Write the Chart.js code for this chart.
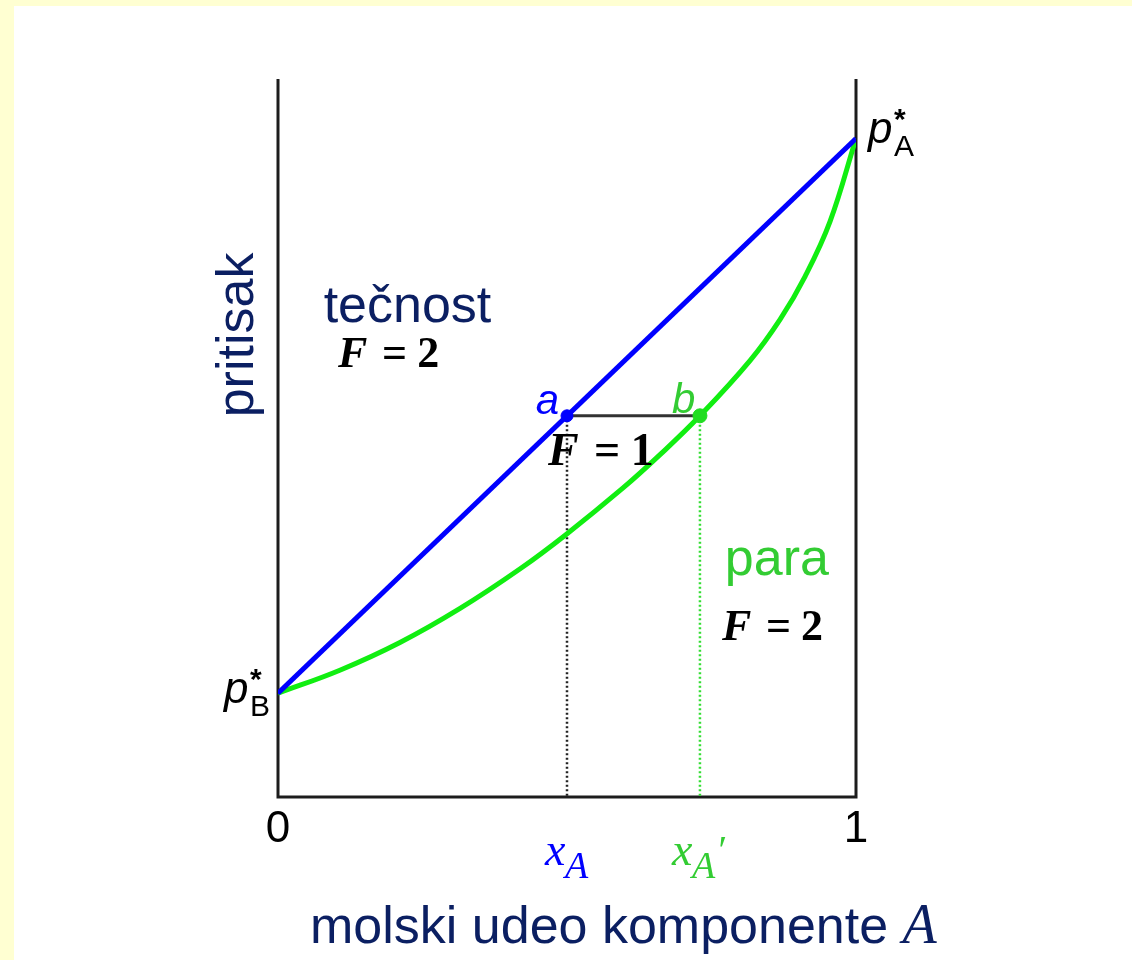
<!DOCTYPE html>
<html>
<head>
<meta charset="utf-8">
<title>pritisak - sastav</title>
<script src="https://cdn.jsdelivr.net/npm/chart.js@4.4.1/dist/chart.umd.min.js"></script>
<style>
  html, body { margin: 0; width: 1132px; height: 960px; background: #ffffd2; overflow: hidden; }
  #sheet { position: absolute; left: 14px; top: 6px; right: 0; bottom: 0; background: #fff; }
  #diagram { position: absolute; left: 0; top: 0; }
</style>
</head>
<body>
<div id="sheet"></div>
<canvas id="diagram" width="1132" height="960"></canvas>
<script>
// molski udeo A i pritisak (p*B = 0.3, p*A = 1)
const liquidX = [0, 1];
const liquidP = [0.3, 1.0];
const vaporX = [0, 0.107, 0.211, 0.315, 0.419, 0.498, 0.597, 0.661, 0.73, 0.817, 0.869, 0.912, 0.955, 1];
const vaporP = [0.3, 0.329, 0.364, 0.407, 0.457, 0.5, 0.559, 0.601, 0.65, 0.72, 0.772, 0.826, 0.895, 1.0];
// vezna linija a-b
const tieX = [0.5, 0.73];
const tieP = [0.65, 0.65];
const tickValues = [0, 1];
const tickLabels = ["0", "1"];

const X_MIN = 0, X_MAX = 1;
const P_MIN = 0.169, P_MAX = 1.075;

const NAVY = "#0b1f62";
const BLUE = "#0000ff";
const GREEN = "#11ee11";
const LIGHT_GREEN = "#33cc33";

const toPoints = (xs, ys) => xs.map((x, i) => ({ x: x, y: ys[i] }));

const SANS = '"Liberation Sans", Arial, sans-serif';
const SERIF = '"Liberation Serif", "Times New Roman", serif';

// F = n, italic F and bold upright rest
const drawPhaseRule = (ctx, x, y, size, n) => {
    ctx.fillStyle = "#000";
    ctx.textAlign = "left";
    ctx.font = `italic bold ${size}px ${SERIF}`;
    ctx.fillText("F", x, y);
    ctx.font = `bold ${size}px ${SERIF}`;
    ctx.fillText("=", x + size * 1.0, y);
    ctx.fillText(n, x + size * 1.8, y);
};

// p* with subscript
const drawPure = (ctx, x, y, sub) => {
    ctx.fillStyle = "#000";
    ctx.textAlign = "left";
    ctx.font = `italic 44px ${SANS}`;
    ctx.fillText("p", x, y);
    ctx.font = `bold 30px ${SANS}`;
    ctx.fillText("*", x + 26, y - 14);
    ctx.font = `30px ${SANS}`;
    ctx.fillText(sub, x + 26, y + 13);
};

const framePlugin = {
    id: "frame",
    beforeDatasetsDraw(chart) {
        const { ctx, chartArea } = chart;
        ctx.save();
        ctx.strokeStyle = "#1c1c1c";
        ctx.lineWidth = 3;
        ctx.beginPath();
        ctx.moveTo(chartArea.left, chartArea.top);
        ctx.lineTo(chartArea.left, chartArea.bottom);
        ctx.lineTo(chartArea.right, chartArea.bottom);
        ctx.lineTo(chartArea.right, chartArea.top);
        ctx.stroke();
        ctx.restore();
    },
    afterDatasetsDraw(chart) {
        const { ctx, chartArea } = chart;
        const sx = chart.scales.x;
        const sy = chart.scales.y;
        const ax = sx.getPixelForValue(tieX[0]);
        const bx = sx.getPixelForValue(tieX[1]);
        const ty = sy.getPixelForValue(tieP[0]);
        ctx.save();
        ctx.textBaseline = "alphabetic";

        // tick labels 0 i 1
        ctx.font = `44px ${SANS}`;
        ctx.fillStyle = "#000";
        ctx.textAlign = "center";
        tickValues.forEach((v, i) => {
            ctx.fillText(tickLabels[i], sx.getPixelForValue(v), chartArea.bottom + 45);
        });

        // x_A and x_A'
        const xLabel = (cx, color, prime) => {
            ctx.fillStyle = color;
            ctx.textAlign = "left";
            ctx.font = `italic 46px ${SERIF}`;
            const left = cx - (prime ? 28 : 22);
            ctx.fillText("x", left, chartArea.bottom + 68);
            ctx.font = `italic 38px ${SERIF}`;
            ctx.fillText("A", left + 20, chartArea.bottom + 81);
            if (prime) {
                ctx.font = `italic 40px ${SERIF}`;
                ctx.fillText("\u2032", left + 44, chartArea.bottom + 66);
            }
        };
        xLabel(ax, BLUE, false);
        xLabel(bx, LIGHT_GREEN, true);

        // axis titles
        ctx.fillStyle = NAVY;
        ctx.textAlign = "left";
        ctx.font = `52px ${SANS}`;
        const title = "molski udeo komponente ";
        ctx.fillText(title, 310, 943);
        const tw = ctx.measureText(title).width;
        ctx.font = `italic 56px ${SERIF}`;
        ctx.fillText("A", 310 + tw, 943);

        ctx.save();
        ctx.translate(chartArea.left - 25, sy.getPixelForValue(0.752));
        ctx.rotate(-Math.PI / 2);
        ctx.textAlign = "center";
        ctx.font = `52px ${SANS}`;
        ctx.fillText("pritisak", 0, 0);
        ctx.restore();

        // regions
        ctx.font = `52px ${SANS}`;
        ctx.fillStyle = NAVY;
        ctx.fillText("te\u010dnost", sx.getPixelForValue(0.079), sy.getPixelForValue(0.768));
        drawPhaseRule(ctx, sx.getPixelForValue(0.104), sy.getPixelForValue(0.712), 44, "2");

        ctx.font = `52px ${SANS}`;
        ctx.fillStyle = LIGHT_GREEN;
        ctx.fillText("para", sx.getPixelForValue(0.773), sy.getPixelForValue(0.449));
        drawPhaseRule(ctx, sx.getPixelForValue(0.768), sy.getPixelForValue(0.367), 44, "2");

        drawPhaseRule(ctx, ax - 19, ty + 49, 46, "1");

        // point names
        ctx.font = `italic 42px ${SANS}`;
        ctx.fillStyle = BLUE;
        ctx.textAlign = "right";
        ctx.fillText("a", ax - 8, ty - 2);
        ctx.fillStyle = LIGHT_GREEN;
        ctx.textAlign = "left";
        ctx.fillText("b", bx - 28, ty - 3);

        // pure component pressures
        drawPure(ctx, chartArea.right + 12, sy.getPixelForValue(liquidP[1]) + 5, "A");
        drawPure(ctx, chartArea.left - 54, sy.getPixelForValue(liquidP[0]) + 10, "B");
        ctx.restore();
    }
};

const ctx = document.getElementById("diagram").getContext("2d");

new Chart(ctx, {
    type: "scatter",
    data: {
        datasets: [
            {
                label: "a",
                data: toPoints([tieX[0]], [tieP[0]]),
                pointRadius: 6,
                pointBackgroundColor: BLUE,
                pointBorderColor: BLUE,
                showLine: false,
            },
            {
                label: "b",
                data: toPoints([tieX[1]], [tieP[1]]),
                pointRadius: 7,
                pointBackgroundColor: "#22dd22",
                pointBorderColor: "#22dd22",
                showLine: false,
            },
            {
                label: "tečnost",
                data: toPoints(liquidX, liquidP),
                showLine: true,
                borderColor: BLUE,
                borderWidth: 5,
                pointRadius: 0,
            },
            {
                label: "para",
                data: toPoints(vaporX, vaporP),
                showLine: true,
                borderColor: GREEN,
                borderWidth: 5,
                pointRadius: 0,
                tension: 0.4,
            },
            {
                label: "vezna linija",
                data: toPoints(tieX, tieP),
                showLine: true,
                borderColor: "#333",
                borderWidth: 3,
                pointRadius: 0,
            },
            {
                label: "xA",
                data: toPoints([tieX[0], tieX[0]], [tieP[0], P_MIN]),
                showLine: true,
                borderColor: "#222",
                borderWidth: 2.5,
                borderDash: [2, 2.5],
                pointRadius: 0,
            },
            {
                label: "xA'",
                data: toPoints([tieX[1], tieX[1]], [tieP[1], P_MIN]),
                showLine: true,
                borderColor: "#33dd33",
                borderWidth: 2.5,
                borderDash: [2, 2.5],
                pointRadius: 0,
            },
        ],
    },
    options: {
        responsive: false,
        animation: false,
        events: [],
        layout: { padding: { left: 278, right: 276, top: 79, bottom: 163 } },
        scales: {
            x: { type: "linear", min: X_MIN, max: X_MAX, display: false },
            y: { type: "linear", min: P_MIN, max: P_MAX, display: false },
        },
        plugins: {
            legend: { display: false },
            tooltip: { enabled: false },
        },
    },
    plugins: [framePlugin],
});
</script>
</body>
</html>
